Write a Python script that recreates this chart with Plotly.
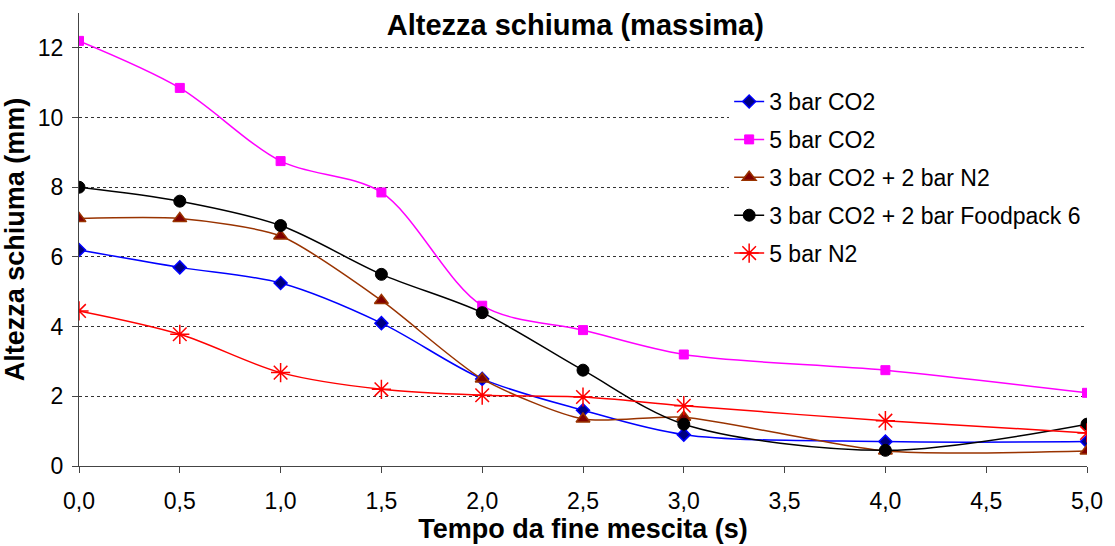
import plotly.graph_objects as go

x_time = [0.0, 0.5, 1.0, 1.5, 2.0, 2.5, 3.0, 4.0, 5.0]

s_3co2 = [6.2, 5.7, 5.25, 4.1, 2.5, 1.6, 0.9, 0.7, 0.7]
s_5co2 = [12.2, 10.85, 8.75, 7.85, 4.6, 3.9, 3.2, 2.75, 2.1]
s_3co2_2n2 = [7.1, 7.1, 6.6, 4.75, 2.5, 1.35, 1.4, 0.43, 0.43]
s_3co2_2fp6 = [8.0, 7.6, 6.9, 5.5, 4.4, 2.75, 1.2, 0.45, 1.2]
s_5n2 = [4.45, 3.78, 2.68, 2.2, 2.03, 1.98, 1.73, 1.3, 0.95]

series_names = ["3 bar CO2", "5 bar CO2", "3 bar CO2 + 2 bar N2",
                "3 bar CO2 + 2 bar Foodpack 6", "5 bar N2"]

x_tick_vals = [0.0, 0.5, 1.0, 1.5, 2.0, 2.5, 3.0, 3.5, 4.0, 4.5, 5.0]
x_tick_text = ["0,0", "0,5", "1,0", "1,5", "2,0", "2,5", "3,0", "3,5", "4,0", "4,5", "5,0"]
y_tick_vals = [0, 2, 4, 6, 8, 10, 12]

FONT = "Arial, Liberation Sans, sans-serif"

styles = [
    dict(line=dict(color="#0000FF", width=1.5, shape="spline", smoothing=0.9),
         marker=dict(symbol="diamond", size=10, color="#000080",
                     line=dict(color="#0000FF", width=1.5))),
    dict(line=dict(color="#FF00FF", width=1.5, shape="spline", smoothing=0.9),
         marker=dict(symbol="square", size=9, color="#FF00FF",
                     line=dict(color="#FF00FF", width=1))),
    dict(line=dict(color="#993300", width=1.5, shape="spline", smoothing=0.7),
         marker=dict(symbol="triangle-up", size=12, color="#800000",
                     line=dict(color="#993300", width=1.5))),
    dict(line=dict(color="#000000", width=1.5, shape="spline", smoothing=0.9),
         marker=dict(symbol="circle", size=12, color="#000000",
                     line=dict(color="#000000", width=1))),
    dict(line=dict(color="#FF0000", width=1.5, shape="spline", smoothing=0.9),
         marker=dict(symbol="asterisk-open", size=16, color="#FF0000",
                     line=dict(color="#FF0000", width=1.5))),
]

data = [s_3co2, s_5co2, s_3co2_2n2, s_3co2_2fp6, s_5n2]

fig = go.Figure()
for i, (name, ys, st) in enumerate(zip(series_names, data, styles)):
    fig.add_trace(go.Scatter(x=x_time, y=ys, name=name, mode="lines+markers",
                             legendgroup=f"g{i}", **st))

fig.update_layout(
    width=1115, height=546,
    paper_bgcolor="white", plot_bgcolor="white",
    margin=dict(l=79, r=23, t=13, b=80),
    font=dict(family=FONT, size=22, color="black"),
    title=dict(text="<b>Altezza schiuma (massima)</b>", x=0.516, xanchor="center",
               y=0.955, yanchor="middle", font=dict(size=29, family=FONT, color="black")),
    legend=dict(x=0.645, xanchor="left", y=0.852, yanchor="top",
                bgcolor="white", borderwidth=0, font=dict(size=23, family=FONT),
                tracegroupgap=5),
    showlegend=True,
)

fig.update_xaxes(
    range=[0, 5], tickvals=x_tick_vals, ticktext=x_tick_text,
    showline=True, linecolor="#444", linewidth=1,
    ticks="outside", ticklen=6, tickcolor="#444", ticklabelstandoff=8,
    showgrid=False, zeroline=False,
    tickfont=dict(size=23, family=FONT),
    title=dict(text="<b>Tempo da fine mescita (s)</b>", font=dict(size=27, family=FONT), standoff=2),
)
fig.update_yaxes(
    range=[0, 13], tickvals=y_tick_vals,
    showline=True, linecolor="#444", linewidth=1,
    ticks="outside", ticklen=6, tickcolor="#444", ticklabelstandoff=4,
    showgrid=True, gridcolor="#333", gridwidth=1, griddash="3px,3px",
    zeroline=False,
    tickfont=dict(size=23, family=FONT),
    title=dict(text="<b>Altezza schiuma (mm)</b>", font=dict(size=27, family=FONT), standoff=6),
)

fig.write_html("out.html")
